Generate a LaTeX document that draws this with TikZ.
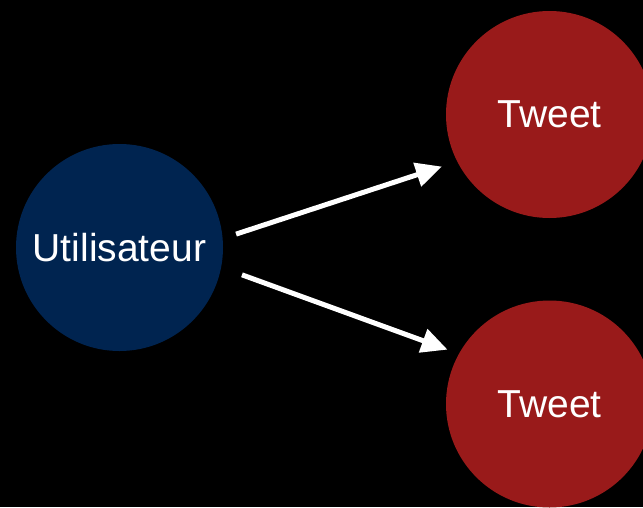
\documentclass[tikz,border=0pt]{standalone}
\usepackage{fontspec}
\setmainfont{Liberation Sans}
\usetikzlibrary{arrows.meta}
\definecolor{userblue}{RGB}{0,36,80}
\definecolor{tweetred}{RGB}{153,26,26}

\begin{document}
\begin{tikzpicture}[x=1pt, y=-1pt, align=center,
  bubble/.style={circle, draw=none, minimum size=207pt, inner sep=0pt,
  text=white}, link/.style={draw=white, line width=5pt,
  -{Triangle[length=26pt, width=24pt]}}, every
  node/.style={font=\fontsize{39}{39}\selectfont} ]

% Background
\fill[black] (0,0) rectangle (643,507);
\useasboundingbox (0,0) rectangle (643,507);

% User
\node[bubble, fill=userblue] (user) at (119.5,247.5) {Utilisateur};

% Tweets
\foreach \i/\y in {1/114.5,2/404} { \node[bubble, fill=tweetred] (tw\i) at
  (549.5,\y) {Tweet}; }

% Connections user -> tweets
\draw[link, shorten <=14pt, shorten >=16pt] (user.5.6) -- (tw1.207);
\draw[link, shorten <=22pt, shorten >=12pt] (user.-11.7) -- (tw2.151);

\end{tikzpicture}
\end{document}
